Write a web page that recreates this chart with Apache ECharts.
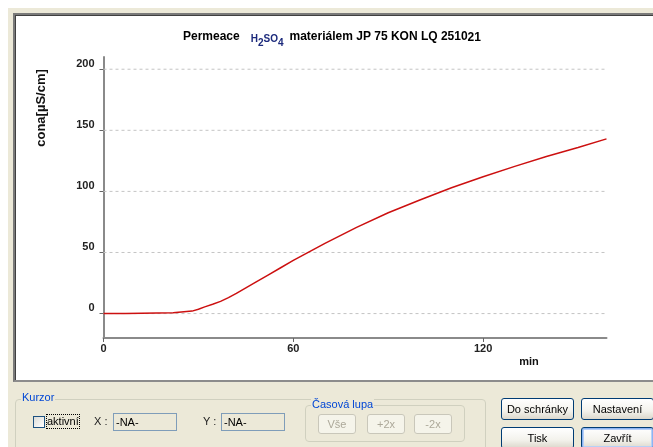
<!DOCTYPE html>
<html>
<head>
<meta charset="utf-8">
<title>Permeace H2SO4</title>
<script src="https://cdn.jsdelivr.net/npm/echarts@6/dist/echarts.min.js"></script>
<style>
  html, body { margin: 0; padding: 0; width: 653px; height: 447px; overflow: hidden; background: #fff;
    font-family: "Liberation Sans", Arial, sans-serif; font-size: 11px; }
  .abs { position: absolute; box-sizing: border-box; }
  #frame { left: 8px; top: 8px; width: 645px; height: 439px; background: #ece9d8; }
  #panel { left: 13px; top: 13px; width: 660px; height: 369px; background: #fff;
    border-top: 2px solid #7a7a7a; border-left: 2px solid #7a7a7a; border-bottom: 2px solid #8c8c8c;
    box-shadow: inset 1px 1px 0 #404040; }
  #chart { left: 0; top: 0; width: 653px; height: 447px; }
  .group { border: 1px solid #d0d0bf; border-radius: 4px; }
  .glabel { color: #0046d5; background: #ece9d8; padding: 0 1px; line-height: 13px; }
  .btn { border: 1px solid #003c74; border-radius: 3px; text-align: center; color: #000;
    background: linear-gradient(#ffffff, #f3f2ec 60%, #dcd8cc); }
  .btn.def { box-shadow: inset 0 0 0 1px #8cb4f2, inset 0 0 0 2px #b7d0f7; }
  .btn.off { border-color: #c9c7ba; color: #aca899; background: #f5f4ea; }
  .edit { border: 1px solid #7f9db9; background: #ece9d8; color: #000; padding-left: 2px; }
  .chk { border: 1px solid #1c5180; background: linear-gradient(135deg, #dcdcd7, #fff); }
  .focus { outline: 1px dotted #000; }
</style>
</head>
<body>
<div id="frame" class="abs"></div>
<div id="panel" class="abs"></div>
<div id="chart" class="abs"></div>

<!-- cursor group -->
<div class="abs group" style="left:15px;top:399px;width:471px;height:70px;"></div>
<div class="abs glabel" style="left:21px;top:391px;">Kurzor</div>
<div class="abs chk" style="left:33px;top:416px;width:12px;height:12px;"></div>
<div class="abs focus" style="left:47px;top:415px;line-height:13px;">aktivní</div>
<div class="abs" style="left:94px;top:415px;line-height:13px;color:#222;">X :</div>
<div class="abs edit" style="left:113px;top:413px;width:64px;height:18px;line-height:16px;">-NA-</div>
<div class="abs" style="left:203px;top:415px;line-height:13px;color:#222;">Y :</div>
<div class="abs edit" style="left:221px;top:413px;width:64px;height:18px;line-height:16px;">-NA-</div>

<!-- time zoom group -->
<div class="abs group" style="left:305px;top:405px;width:160px;height:37px;"></div>
<div class="abs glabel" style="left:311px;top:398px;">Časová lupa</div>
<div class="abs btn off" style="left:318px;top:414px;width:38px;height:20px;line-height:18px;">Vše</div>
<div class="abs btn off" style="left:367px;top:414px;width:38px;height:20px;line-height:18px;">+2x</div>
<div class="abs btn off" style="left:414px;top:414px;width:38px;height:20px;line-height:18px;">-2x</div>

<!-- action buttons -->
<div class="abs btn" style="left:501px;top:398px;width:73px;height:22px;line-height:20px;">Do schránky</div>
<div class="abs btn" style="left:581px;top:398px;width:73px;height:22px;line-height:20px;">Nastavení</div>
<div class="abs btn" style="left:501px;top:427px;width:73px;height:22px;line-height:20px;">Tisk</div>
<div class="abs btn def" style="left:581px;top:427px;width:73px;height:22px;line-height:20px;">Zavřít</div>

<script>
// Measured permeation curve: time in minutes, conductivity in µS/cm
const timeMin = [0, 7, 7.3, 22, 22.5, 28, 30, 32, 34.5, 37, 39.5, 42, 45, 48, 52, 56, 60, 65, 70, 75, 80, 90, 100, 110, 120, 130, 140, 150, 159];
const conductivity = [0, 0, 0.7, 0.7, 1.5, 2, 3.5, 5.5, 7.6, 10, 13, 16.5, 21, 25.5, 31.5, 37.5, 43.5, 50.5, 57.5, 64, 70.5, 82.5, 93, 103, 112, 120.5, 128.5, 136, 143];

// Axis ranges and labelled ticks
const xRange = [0, 159];
const yRange = [-20, 210];
const xTicks = [0, 60, 120];
const yTicks = [0, 50, 100, 150, 200];

const axisText = { fontFamily: 'Liberation Sans, Arial, sans-serif', fontSize: 11, fontWeight: 'bold', color: '#222' };
const titleFont = 'Liberation Sans, Arial, sans-serif';

const chart = echarts.init(document.getElementById('chart'), null, { renderer: 'canvas' });

// Dashed horizontal reference lines at the labelled y values
const gridSeries = yTicks.map(v => ({
  type: 'line',
  data: [[xRange[0], v], [xRange[1], v]],
  showSymbol: false,
  silent: true,
  z: 1,
  lineStyle: { color: '#c4c4c4', width: 1, type: [3, 3] }
}));

chart.setOption({
  backgroundColor: 'transparent',
  animation: false,
  title: {
    left: 178,
    top: 21,
    text: '{b|Permeace}{g1| }{h|H}{s|2}{h|SO}{s|4}{g2| }{b|materiálem JP 75 KON LQ 2510}{e|21}',
    textStyle: {
      rich: {
        b: { fontFamily: titleFont, fontSize: 12, fontWeight: 'bold', color: '#000' },
        g1: { fontFamily: titleFont, fontSize: 12, width: 11 },
        g2: { fontFamily: titleFont, fontSize: 12, width: 6 },
        h: { fontFamily: titleFont, fontSize: 10, color: '#1c2a7c', padding: [4, 0, 0, 0] },
        s: { fontFamily: titleFont, fontSize: 10, color: '#1c2a7c', padding: [12, 0, 0, 0] },
        e: { fontFamily: titleFont, fontSize: 12, fontWeight: 'bold', color: '#000', padding: [2, 0, 0, 0] }
      }
    }
  },
  grid: { left: 103.5, right: 46.5, top: 57, bottom: 109, containLabel: false },
  xAxis: {
    type: 'value',
    min: xRange[0],
    max: xRange[1],
    axisLine: { show: true, onZero: false, lineStyle: { color: '#8a8a8a', width: 2 } },
    axisTick: { show: true, customValues: xTicks, length: 4, lineStyle: { color: '#666' } },
    axisLabel: Object.assign({ customValues: xTicks, margin: 5 }, axisText),
    splitLine: { show: false }
  },
  yAxis: {
    type: 'value',
    min: yRange[0],
    max: yRange[1],
    axisLine: { show: true, onZero: false, lineStyle: { color: '#8a8a8a', width: 2 } },
    axisTick: { show: true, customValues: yTicks, length: 4, lineStyle: { color: '#666' } },
    axisLabel: Object.assign({ customValues: yTicks, margin: 9, verticalAlign: 'bottom' }, axisText),
    splitLine: { show: false }
  },
  graphic: [
    {
      type: 'text', x: 41, y: 108, rotation: Math.PI / 2,
      style: { text: 'cona[µS/cm]', font: 'bold 13px "Liberation Sans", Arial', fill: '#111',
               align: 'center', verticalAlign: 'middle' }
    },
    {
      type: 'text', x: 529, y: 362,
      style: { text: 'min', font: 'bold 11px "Liberation Sans", Arial', fill: '#111',
               align: 'center', verticalAlign: 'middle' }
    }
  ],
  series: gridSeries.concat([{
    type: 'line',
    name: 'cond',
    data: timeMin.map((t, i) => [t, conductivity[i]]),
    showSymbol: false,
    smooth: false,
    z: 3,
    lineStyle: { color: '#cc1010', width: 1.5 }
  }])
});
</script>
</body>
</html>
